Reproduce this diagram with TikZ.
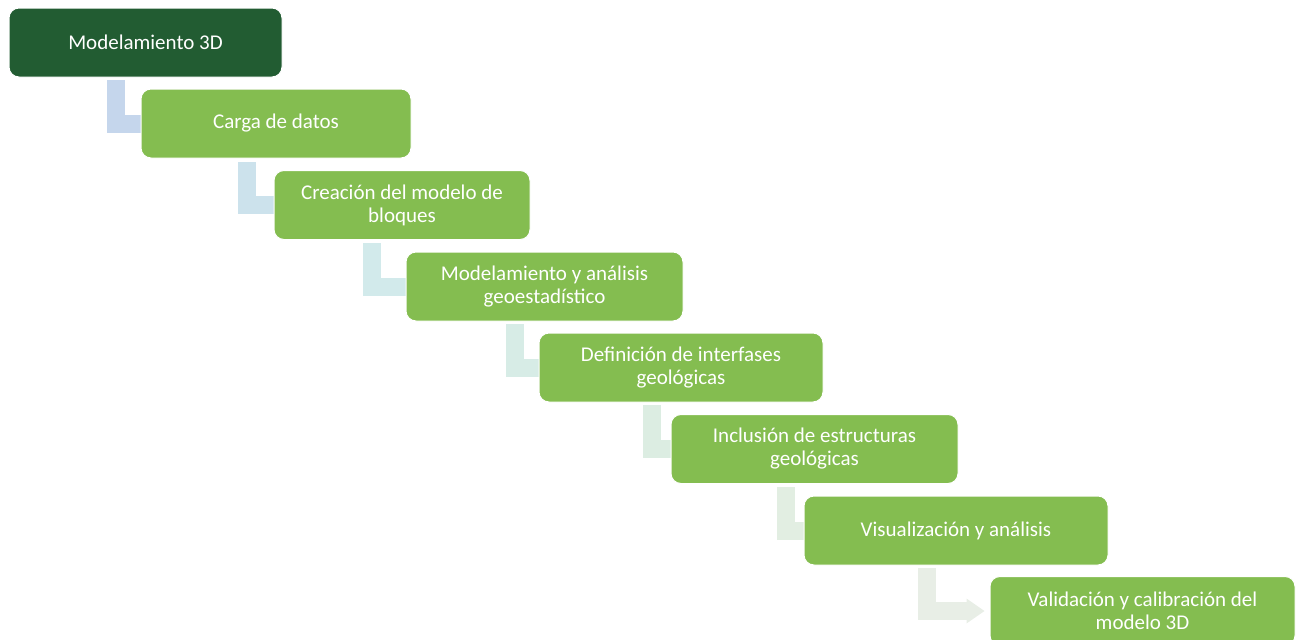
\documentclass[tikz,border=0pt]{standalone}
\usepackage{fontspec}
\setmainfont{Carlito}
\usepackage[]{tikz}
\usetikzlibrary{arrows.meta}
\usetikzlibrary{backgrounds}
\definecolor{darkstep}{RGB}{34,92,50}
\definecolor{lightstep}{RGB}{132,189,80}
\definecolor{connA}{RGB}{197,214,236}
\definecolor{connB}{RGB}{204,226,236}
\definecolor{connC}{RGB}{210,234,235}
\definecolor{connD}{RGB}{215,236,230}
\definecolor{connE}{RGB}{220,237,226}
\definecolor{connF}{RGB}{226,238,226}
\definecolor{connG}{RGB}{232,238,230}
\tikzset{stepbox/.style={rectangle,rounded corners=10pt,fill=lightstep,draw=white,line width=1pt,text=white,font=\fontsize{21}{23}\selectfont,align=center,inner sep=0pt,minimum height=69pt}}
\tikzset{conn/.style={line width=18pt,line join=miter}}

\begin{document}
\begin{tikzpicture}[x=1pt,y=-1pt] % 1 px = 1 pt
            \useasboundingbox (0,0) rectangle (1299,640);
            \clip (0,0) rectangle (1299,640);
            \node[stepbox,fill=darkstep,minimum width=273pt] (b1) at (145.5,42.5) {Modelamiento 3D};
            \node[stepbox,minimum width=270pt] (b2) at (276,123.5) {Carga de datos};
            \node[stepbox,minimum width=256pt] (b3) at (402,205) {Creación del modelo de\\bloques};
            \node[stepbox,minimum width=277pt] (b4) at (544.5,286.5) {Modelamiento y análisis\\geoestadístico};
            \node[stepbox,minimum width=284pt] (b5) at (681,367.5) {Definición de interfases\\geológicas};
            \node[stepbox,minimum width=287pt] (b6) at (814.5,449) {Inclusión de estructuras\\geológicas};
            \node[stepbox,minimum width=304pt] (b7) at (956,530.5) {Visualización y análisis};
            \node[stepbox,minimum width=305pt] (b8) at (1142.5,611) {Validación y calibración del\\modelo 3D};
            \coordinate (c1) at (116,80);
            \coordinate (c2) at (247,162);
            \coordinate (c3) at (372,243);
            \coordinate (c4) at (515,324);
            \coordinate (c5) at (652,405);
            \coordinate (c6) at (785.5,487);
            \coordinate (c7) at (926.5,568);
            \begin{scope}[on background layer]
            \draw[conn,connA] (c1) |- (b2.west);
            \draw[conn,connB] (c2) |- (b3.west);
            \draw[conn,connC] (c3) |- (b4.west);
            \draw[conn,connD] (c4) |- (b5.west);
            \draw[conn,connE] (c5) |- (b6.west);
            \draw[conn,connF] (c6) |- (b7.west);
            \draw[conn,connG,-{Triangle[length=18pt,width=25pt,line width=0pt]},shorten >=5pt] (c7) |- (b8.west);
            \end{scope}
        \end{tikzpicture}
\end{document}
